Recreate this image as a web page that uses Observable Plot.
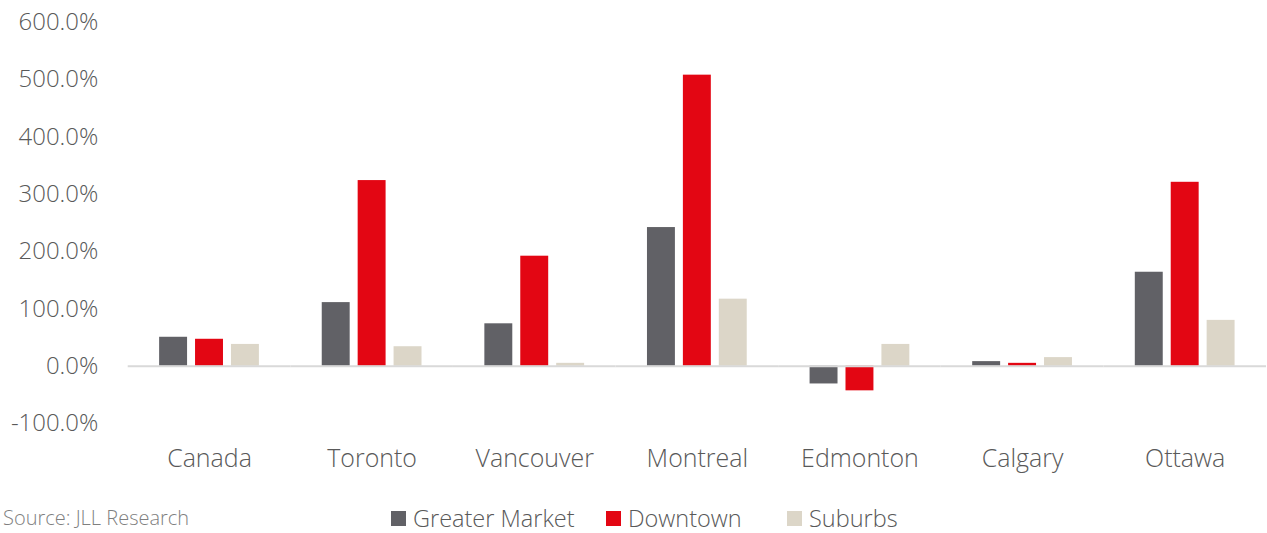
<!DOCTYPE html>
<html>
<head>
<meta charset="utf-8">
<script src="https://cdn.jsdelivr.net/npm/d3@7"></script>
<script src="https://cdn.jsdelivr.net/npm/@observablehq/plot@0.6"></script>
<style>
  html, body { margin: 0; padding: 0; background: #fff; overflow: hidden; }
  #wrap { position: relative; width: 1267px; height: 533px; overflow: hidden; font-family: "Open Sans", sans-serif; font-weight: 300; }
  .item { position: absolute; top: 507px; display: flex; align-items: center; font-size: 23.5px; line-height: 1; color: #595959; white-space: nowrap; }
  .sw { width: 15px; height: 15px; margin-right: 7px; }
  #source { position: absolute; top: 508px; left: 3px; font-size: 20px; line-height: 1; color: #7f7f7f; white-space: nowrap; }
</style>
</head>
<body>
<div id="wrap">
  <div id="chart"></div>
  <div id="legend"></div>
  <div id="source">Source:  JLL Research</div>
</div>
<script>
const categories = ["Canada", "Toronto", "Vancouver", "Montreal", "Edmonton", "Calgary", "Ottawa"];
const seriesNames = ["Greater Market", "Downtown", "Suburbs"];
const seriesColors = ["#616166", "#e30613", "#dcd6c8"];
const greaterMarket = [50.5, 111, 74, 242, -31, 8, 164];
const downtown = [47, 324, 192, 508, -43, 5, 321];
const suburbs = [38, 34, 5, 117, 38, 15, 80];
const yTicks = [-100, 0, 100, 200, 300, 400, 500, 600];

const seriesValues = [greaterMarket, downtown, suburbs];
const data = [];
categories.forEach((c, i) => {
  seriesNames.forEach((s, j) => data.push({category: c, series: s, value: seriesValues[j][i]}));
});

const chart = Plot.plot({
  width: 1270,
  height: 533,
  marginLeft: 127.5,
  marginRight: 1,
  marginTop: 22,
  marginBottom: 109,
  style: {fontFamily: "'Open Sans', sans-serif", fontWeight: 300, background: "#fff"},
  fx: {domain: categories, padding: 0, label: null},
  x: {domain: seriesNames, paddingInner: 0.215, paddingOuter: 0.854, axis: null},
  y: {domain: [-100, 600], label: null},
  color: {domain: seriesNames, range: seriesColors},
  marks: [
    Plot.axisY({ticks: yTicks, tickSize: 0, tickPadding: 30, fontSize: 24, fill: "#595959", label: null,
      tickFormat: d => d.toFixed(1) + "%"}),
    Plot.axisFx({anchor: "bottom", tickSize: 0, tickPadding: 26, fontSize: 25, fill: "#595959", label: null}),
    Plot.barY(data, {fx: "category", x: "series", y: "value", fill: "series"}),
    Plot.ruleY([0], {stroke: "#d9d9d9", strokeWidth: 2})
  ]
});
document.getElementById("chart").appendChild(chart);

const legend = document.getElementById("legend");
const legendLeft = [391, 606, 787];
seriesNames.forEach((s, i) => {
  const item = document.createElement("div");
  item.className = "item";
  item.style.left = legendLeft[i] + "px";
  const sw = document.createElement("div");
  sw.className = "sw";
  sw.style.background = seriesColors[i];
  const t = document.createElement("span");
  t.textContent = s;
  item.appendChild(sw);
  item.appendChild(t);
  legend.appendChild(item);
});
</script>
</body>
</html>
